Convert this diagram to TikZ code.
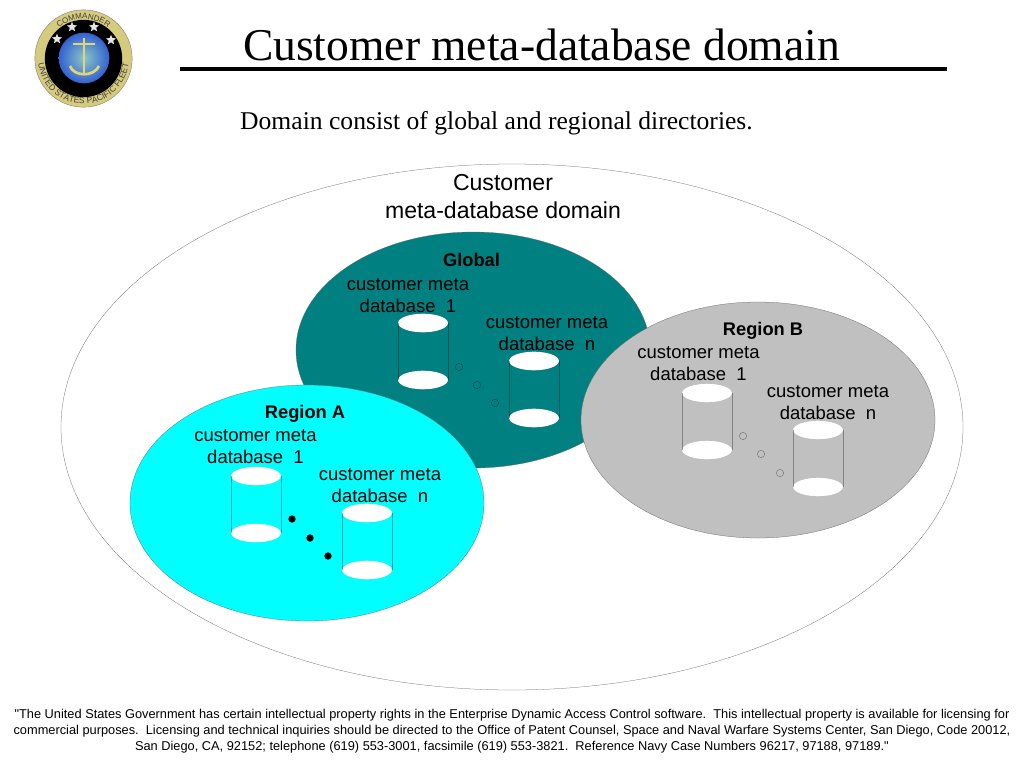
\documentclass[tikz,border=0pt]{standalone}
\usepackage{fontspec}
\setmainfont{Liberation Serif}
\newfontfamily\labelfont{Liberation Sans}
\usetikzlibrary{shapes.geometric,decorations.text}
\definecolor{globalteal}{RGB}{0,128,128}
\definecolor{regionacyan}{RGB}{0,255,255}
\definecolor{regionbgrey}{RGB}{192,192,192}
\definecolor{sealgold}{RGB}{214,202,125}
\definecolor{anchorgold}{RGB}{222,214,120}
\tikzset{
  region/.style={draw=black!60,ellipse,line width=0.2pt,minimum width=265.5pt,minimum height=177pt,inner sep=0pt},
  dbcap/.style={draw=black,draw opacity=0.12,ellipse,fill=white,line width=0.2pt,minimum width=37.5pt,minimum height=14pt,inner sep=0pt},
  dbside/.style={draw=black,draw opacity=0.32,line width=0.2pt},
  lbl/.style={font=\labelfont\fontsize{13.85}{16.5}\selectfont,align=center,inner sep=0pt},
  bold lbl/.style={font=\labelfont\bfseries\fontsize{13.7}{16}\selectfont,inner sep=0pt},
  hollow/.style={circle,draw=black,draw opacity=0.5,line width=0.25pt,minimum size=5.5pt,inner sep=0pt},
  solid dot/.style={circle,fill=black,minimum size=5.5pt,inner sep=0pt},
  medal star/.style={star,star points=5,star point ratio=2.3,fill=white!80!gray,minimum size=8pt,inner sep=0pt}
}
\newcommand{\dbcyl}[3]{%
  \node[dbcap] (#1top) at (#2,#3) {};
  \node[dbcap] (#1bot) at (#2,#3+57) {};
  \draw[dbside] (#1top.west) -- (#1bot.west);
  \draw[dbside] (#1top.east) -- (#1bot.east);
}
\begin{document}
\begin{tikzpicture}[x=0.75pt,y=-0.75pt]
  \useasboundingbox (0,0) rectangle (1024,768);
  % seal
  \node[circle,fill=sealgold,draw=black!50,line width=0.3pt,minimum size=73pt,inner sep=0pt] (ring) at (83.5,58.5) {};
  \node[circle,fill=black,minimum size=58pt,inner sep=0pt] (inner) at (83.5,58.5) {};
  \node[circle,inner color=teal!45!white,outer color=blue!55!teal!80!white,minimum size=38pt,inner sep=0pt] (globe) at (84,58) {};
  \node[medal star] (s1) at (72,27) {};
  \node[medal star] (s2) at (94,27) {};
  \node[medal star] (s3) at (57,39) {};
  \node[medal star] (s4) at (111,40) {};
  \draw[anchorgold,line width=2.2pt] (84,38) -- (84,74);
  \draw[anchorgold,line width=1.3pt] (73,44) -- (95,44);
  \draw[anchorgold,line width=2pt] (70,66) .. controls (74,77) and (94,77) .. (99,66);
  \path[decorate,decoration={text along path,text align=center,
    text={|\labelfont\fontsize{6}{7}\selectfont\color{black!75}|COMMANDER}}]
    (83.5,58.5) ++(-165:39.5) arc (-165:-15:39.5);
  \path[decorate,decoration={text along path,text align=center,
    text={|\labelfont\fontsize{6.4}{7}\selectfont\color{black!75}|UNITED STATES PACIFIC FLEET}}]
    (83.5,58.5) ++(-180:45.5) arc (-180:-360:45.5);
  % heading
  \node[font=\fontsize{34.15}{40}\selectfont,inner sep=0pt] (title) at (541.5,44.5) {Customer meta-database domain};
  \coordinate (ruleL) at (180,69);
  \coordinate (ruleR) at (947,69);
  \draw[line width=3pt] (ruleL) -- (ruleR);
  \node[font=\fontsize{19.2}{22}\selectfont,inner sep=0pt] (intro) at (496.5,123) {Domain consist of global and regional directories.};
  % domain and its regions
  \node[region,fill=white,minimum width=676.5pt,minimum height=394.5pt] (domain) at (512,427) {};
  \node[region,fill=globalteal] (global) at (473,350) {};
  \node[region,fill=regionacyan] (regiona) at (307,503) {};
  \node[region,fill=regionbgrey] (regionb) at (758,420) {};
  \node[lbl,font=\labelfont\fontsize{17.3}{21}\selectfont] (domainlbl) at (503,196.5) {Customer\\meta-database domain};
  % global
  \dbcyl{g1}{423}{323}
  \dbcyl{gn}{534}{361}
  \node[bold lbl] (globallbl) at (471.5,260) {Global};
  \node[lbl] (g1lbl) at (408,296) {customer meta\\database\ \ 1};
  \node[lbl] (gnlbl) at (547,334) {customer meta\\database\ \ n};
  \node[hollow] (gd1) at (459,367) {};
  \node[hollow] (gd2) at (477,385) {};
  \node[hollow] (gd3) at (495,403) {};
  % region a
  \dbcyl{a1}{256}{476}
  \dbcyl{an}{367}{513}
  \node[bold lbl] (regionalbl) at (305,414) {Region A};
  \node[lbl] (a1lbl) at (255.5,447) {customer meta\\database\ \ 1};
  \node[lbl] (anlbl) at (380,486) {customer meta\\database\ \ n};
  \node[solid dot] (ad1) at (292,519) {};
  \node[solid dot] (ad2) at (310,538) {};
  \node[solid dot] (ad3) at (328,556) {};
  % region b
  \dbcyl{b1}{707}{393}
  \dbcyl{bn}{818}{430}
  \node[bold lbl] (regionblbl) at (763,331) {Region B};
  \node[lbl] (b1lbl) at (698.5,364) {customer meta\\database\ \ 1};
  \node[lbl] (bnlbl) at (828,403) {customer meta\\database\ \ n};
  \node[hollow] (bd1) at (743,436) {};
  \node[hollow] (bd2) at (761,454) {};
  \node[hollow] (bd3) at (780,473) {};
  % notice
  \node[lbl,font=\labelfont\fontsize{9.6}{12.2}\selectfont] (notice) at (512,731) {"The United States Government has certain intellectual property rights in the Enterprise Dynamic Access Control software.\ \ This intellectual property is available for licensing for\\commercial purposes.\ \ Licensing and technical inquiries should be directed to the Office of Patent Counsel, Space and Naval Warfare Systems Center, San Diego, Code 20012,\\San Diego, CA, 92152; telephone (619) 553-3001, facsimile (619) 553-3821.\ \ Reference Navy Case Numbers 96217, 97188, 97189."};
\end{tikzpicture}
\end{document}
